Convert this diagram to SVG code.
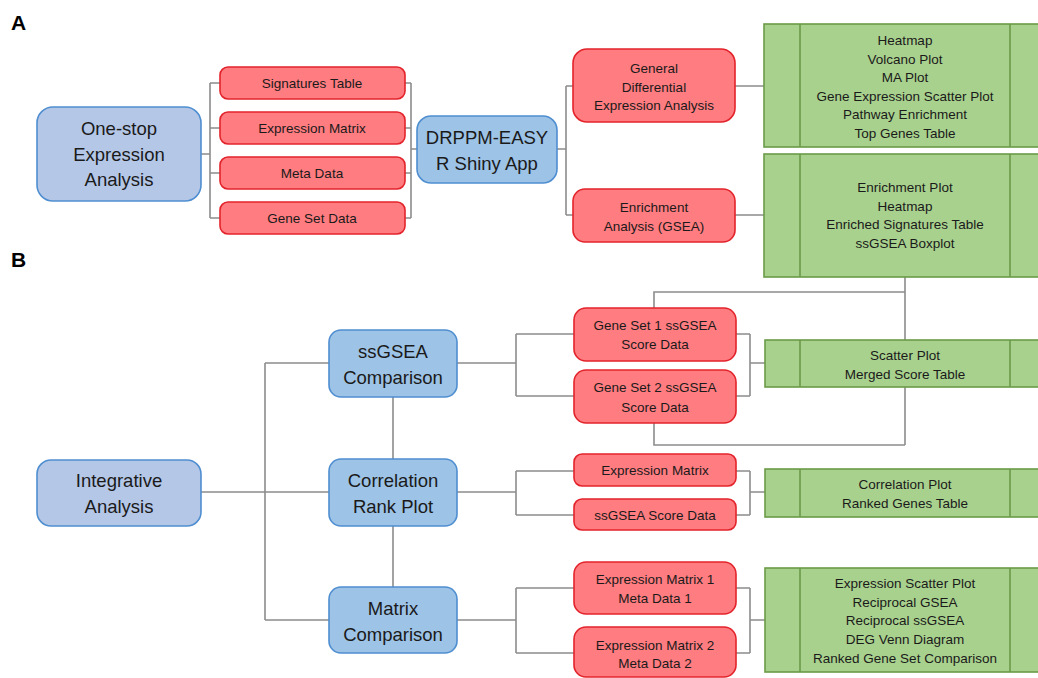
<svg xmlns="http://www.w3.org/2000/svg" width="1038" height="678" viewBox="0 0 1038 678">
<style>
text{font-family:"Liberation Sans",Arial,sans-serif;fill:#1a1a1a;text-anchor:middle}
.big{font-size:18.5px}
.sm{font-size:13.5px}
.lbl{font-size:21px;font-weight:bold;text-anchor:start;fill:#000}
.blue{fill:#9dc3e6;stroke:#4f8ed0;stroke-width:1.6}
.lblue{fill:#b4c7e7;stroke:#4f8ed0;stroke-width:1.6}
.red{fill:#ff7c80;stroke:#e3232b;stroke-width:1.6}
.green{fill:#a9d18e;stroke:#6a9c48;stroke-width:1.6}
.div{stroke:#6a9c48;stroke-width:1.6}
#connectors path{fill:none;stroke:#8c8c8c;stroke-width:1.6}
</style>
<rect width="1038" height="678" fill="#fff"/>
<text class="lbl" x="11" y="30">A</text>
<text class="lbl" x="11" y="267">B</text>
<g id="connectors">
<path d="M201 154H210M210 83V218M210 83H220M210 128H220M210 173H220M210 218H220"/>
<path d="M405 83H411M405 128H411M405 173H411M405 218H411M411 83V218M411 149H417"/>
<path d="M557 149H566M566 86V215M566 86H573M566 215H573"/>
<path d="M735 86H764M735 215H764"/>
<path d="M905 277V445M905 292H654V308M654 423V445H905"/>
<path d="M201 492H265M265 363V620M265 363H329M265 492H329M265 620H329"/>
<path d="M393 397V459M393 526V587"/>
<path d="M457 363H516M516 334V396M516 334H574M516 396H574M736 334H750M736 396H750M750 334V396M750 363H765"/>
<path d="M457 492H516M516 471V515M516 471H574M516 515H574M736 471H750M736 515H750M750 471V515M750 492H765"/>
<path d="M457 620H516M516 588V653M516 588H574M516 653H574M736 588H750M736 653H750M750 588V653M750 620H765"/>
</g>
<g id="onestop"><rect class="lblue" x="37" y="107" width="164" height="94" rx="16"/><text class="big" x="119" y="135">One-stop</text><text class="big" x="119" y="161">Expression</text><text class="big" x="119" y="186">Analysis</text></g>
<g id="sigtable"><rect class="red" x="220" y="67" width="185" height="32" rx="8"/><text class="sm" x="312" y="88">Signatures Table</text></g>
<g id="exprmat"><rect class="red" x="220" y="112" width="185" height="32" rx="8"/><text class="sm" x="312" y="133">Expression Matrix</text></g>
<g id="metadata"><rect class="red" x="220" y="157" width="185" height="32" rx="8"/><text class="sm" x="312" y="178">Meta Data</text></g>
<g id="genesetdata"><rect class="red" x="220" y="202" width="185" height="32" rx="8"/><text class="sm" x="312" y="223">Gene Set Data</text></g>
<g id="drppm"><rect class="blue" x="417" y="116" width="140" height="67" rx="14"/><text class="big" x="487" y="144">DRPPM-EASY</text><text class="big" x="487" y="170">R Shiny App</text></g>
<g id="gdea"><rect class="red" x="573" y="49" width="162" height="73" rx="14"/><text class="sm" x="654" y="73">General</text><text class="sm" x="654" y="91.5">Differential</text><text class="sm" x="654" y="110">Expression Analysis</text></g>
<g id="gsea"><rect class="red" x="573" y="189" width="162" height="53" rx="12"/><text class="sm" x="654" y="212">Enrichment</text><text class="sm" x="654" y="231">Analysis (GSEA)</text></g>
<g id="dea-out"><rect class="green" x="764" y="24" width="282" height="123"/><path class="div" d="M800 24V147M1010 24V147"/>
<text class="sm" x="905" y="45">Heatmap</text><text class="sm" x="905" y="64">Volcano Plot</text><text class="sm" x="905" y="82">MA Plot</text><text class="sm" x="905" y="101">Gene Expression Scatter Plot</text><text class="sm" x="905" y="119">Pathway Enrichment</text><text class="sm" x="905" y="138">Top Genes Table</text></g>
<g id="gsea-out"><rect class="green" x="764" y="154" width="282" height="123"/><path class="div" d="M800 154V277M1010 154V277"/>
<text class="sm" x="905" y="192">Enrichment Plot</text><text class="sm" x="905" y="211">Heatmap</text><text class="sm" x="905" y="229">Enriched Signatures Table</text><text class="sm" x="905" y="248">ssGSEA Boxplot</text></g>
<g id="integrative"><rect class="lblue" x="37" y="460" width="164" height="66" rx="14"/><text class="big" x="119" y="487">Integrative</text><text class="big" x="119" y="513">Analysis</text></g>
<g id="ssgseacomp"><rect class="blue" x="329" y="330" width="128" height="67" rx="12"/><text class="big" x="393" y="358">ssGSEA</text><text class="big" x="393" y="384">Comparison</text></g>
<g id="corrrank"><rect class="blue" x="329" y="459" width="128" height="67" rx="12"/><text class="big" x="393" y="487">Correlation</text><text class="big" x="393" y="513">Rank Plot</text></g>
<g id="matrixcomp"><rect class="blue" x="329" y="587" width="128" height="66" rx="12"/><text class="big" x="393" y="615">Matrix</text><text class="big" x="393" y="641">Comparison</text></g>
<g id="gs1"><rect class="red" x="574" y="308" width="162" height="53" rx="12"/><text class="sm" x="655" y="330">Gene Set 1 ssGSEA</text><text class="sm" x="655" y="349">Score Data</text></g>
<g id="gs2"><rect class="red" x="574" y="370" width="162" height="53" rx="12"/><text class="sm" x="655" y="392">Gene Set 2 ssGSEA</text><text class="sm" x="655" y="412">Score Data</text></g>
<g id="scatter-out"><rect class="green" x="765" y="340" width="281" height="47"/><path class="div" d="M800 340V387M1010 340V387"/><text class="sm" x="905" y="360">Scatter Plot</text><text class="sm" x="905" y="379">Merged Score Table</text></g>
<g id="exprmatB"><rect class="red" x="574" y="454" width="162" height="32" rx="8"/><text class="sm" x="655" y="475">Expression Matrix</text></g>
<g id="ssgseascore"><rect class="red" x="574" y="499" width="162" height="31" rx="8"/><text class="sm" x="655" y="520">ssGSEA Score Data</text></g>
<g id="corr-out"><rect class="green" x="765" y="469" width="281" height="48"/><path class="div" d="M800 469V517M1010 469V517"/><text class="sm" x="905" y="489">Correlation Plot</text><text class="sm" x="905" y="508">Ranked Genes Table</text></g>
<g id="em1"><rect class="red" x="574" y="562" width="162" height="52" rx="12"/><text class="sm" x="655" y="584">Expression Matrix 1</text><text class="sm" x="655" y="603">Meta Data 1</text></g>
<g id="em2"><rect class="red" x="574" y="627" width="162" height="50" rx="12"/><text class="sm" x="655" y="650">Expression Matrix 2</text><text class="sm" x="655" y="668">Meta Data 2</text></g>
<g id="matrix-out"><rect class="green" x="765" y="568" width="281" height="104"/><path class="div" d="M800 568V672M1010 568V672"/>
<text class="sm" x="905" y="588">Expression Scatter Plot</text><text class="sm" x="905" y="607">Reciprocal GSEA</text><text class="sm" x="905" y="625">Reciprocal ssGSEA</text><text class="sm" x="905" y="644">DEG Venn Diagram</text><text class="sm" x="905" y="663">Ranked Gene Set Comparison</text></g>
</svg>
